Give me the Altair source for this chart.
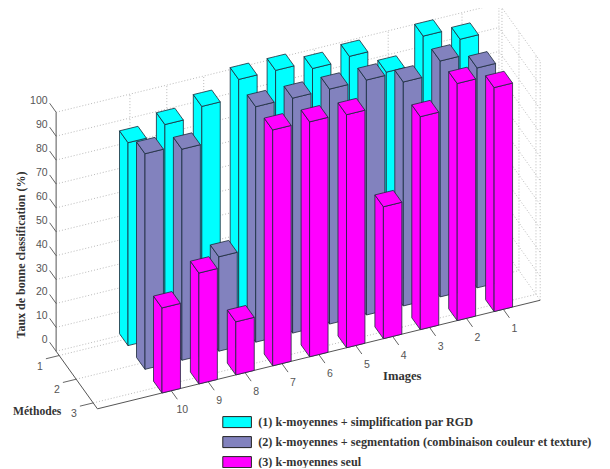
import altair as alt
import pandas as pd

images = [10, 9, 8, 7, 6, 5, 4, 3, 2, 1]
method_ids = [1, 2, 3]
series_names = [
    "(1) k-moyennes + simplification par RGD",
    "(2) k-moyennes + segmentation (combinaison couleur et texture)",
    "(3) k-moyennes seul",
]
colors = ["#00FFFF", "#8282BE", "#FF00FF"]
m1_values = [84.9, 88.7, 92.5, 100, 100, 97, 98.3, 87.9, 99.2, 94.1]
m2_values = [90.2, 88.3, 39.5, 98.5, 98.3, 98.3, 98.3, 93.7, 98.7, 92]
m3_values = [35.6, 46.4, 22.2, 98.7, 98.3, 97.5, 55.2, 89.1, 99.2, 93.7]
z_ticks = [0, 10, 20, 30, 40, 50, 60, 70, 80, 90, 100]
z_labels = ["0", "10", "20", "30", "40", "50", "60", "70", "80", "90", "100"]
all_values = {1: m1_values, 2: m2_values, 3: m3_values}

I_MAX, I_MIN, M_BACK, M_FRONT, HALF = 12, 0, 0.82, 3.25, 0.25


def proj(i, m, z=0):
    u, v = 10.25 - i, 3.25 - m
    return 162 + u * 36.9 - v * 17, 393 - u * 9.05 - v * 23.7 - 2.39 * z


face_rows = []


def add_face(fid, name, pts):
    for x, y, y2 in pts:
        face_rows.append(dict(fid=f"f{fid:03d}", series=name, x=x, y=y, y2=y2))


fid = 0
for m in method_ids:
    for idx in range(len(images) - 1, -1, -1):
        i, v = images[idx], all_values[m][idx]
        name = series_names[m - 1]
        L0, F0, R0 = proj(i + HALF, m - HALF), proj(i + HALF, m + HALF), proj(i - HALF, m + HALF)
        Lt, Ft, Rt, Bt = (proj(i + HALF, m - HALF, v), proj(i + HALF, m + HALF, v),
                          proj(i - HALF, m + HALF, v), proj(i - HALF, m - HALF, v))
        add_face(fid, name, [(L0[0], Lt[1], L0[1]), (F0[0], Ft[1], F0[1])])
        fid += 1
        add_face(fid, name, [(F0[0], Ft[1], F0[1]), (R0[0], Rt[1], R0[1])])
        fid += 1
        up = Lt[1] + (Bt[1] - Lt[1]) * (Ft[0] - Lt[0]) / (Bt[0] - Lt[0])
        low = Ft[1] + (Rt[1] - Ft[1]) * (Bt[0] - Ft[0]) / (Rt[0] - Ft[0])
        add_face(fid, name, [(Lt[0], Lt[1], Lt[1]), (Ft[0], up, Ft[1]), (Bt[0], Bt[1], low), (Rt[0], Rt[1], Rt[1])])
        fid += 1
faces = pd.DataFrame(face_rows)


def seg(a, b):
    return dict(x=a[0], y=a[1], x2=b[0], y2=b[1])


grid_rows, axis_rows, tick_rows = [], [], []
for z in z_ticks:
    grid_rows.append(seg(proj(I_MAX, M_BACK, z), proj(I_MIN, M_BACK, z)))
    grid_rows.append(seg(proj(I_MIN, M_BACK, z), proj(I_MIN, M_FRONT, z)))
    tick_rows.append(seg(proj(I_MAX, M_BACK - 0.38, z), proj(I_MAX, M_BACK, z)))
for i in images:
    grid_rows.append(seg(proj(i, M_BACK, 0), proj(i, M_BACK, 100)))
    grid_rows.append(seg(proj(i, M_BACK, 0), proj(i, M_FRONT, 0)))
    tick_rows.append(seg(proj(i, M_FRONT, 0), proj(i, M_FRONT + 0.36, 0)))
for m in method_ids:
    grid_rows.append(seg(proj(I_MAX, m, 0), proj(I_MIN, m, 0)))
    grid_rows.append(seg(proj(I_MIN, m, 0), proj(I_MIN, m, 100)))
    tick_rows.append(seg(proj(I_MAX + 0.36, m, 0), proj(I_MAX, m, 0)))
grid_rows.append(seg(proj(I_MIN, M_BACK, 0), proj(I_MIN, M_BACK, 100)))
grid_rows.append(seg(proj(I_MIN, M_FRONT, 0), proj(I_MIN, M_FRONT, 100)))
axis_rows.append(seg(proj(I_MAX, M_BACK, 0), proj(I_MAX, M_BACK, 100)))
axis_rows.append(seg(proj(I_MAX, M_BACK, 0), proj(I_MAX, M_FRONT, 0)))
axis_rows.append(seg(proj(I_MAX, M_FRONT, 0), proj(I_MIN, M_FRONT, 0)))

X = alt.X("x:Q", scale=alt.Scale(domain=[8, 602], range=[0, 594], nice=False, zero=False), axis=None)
Y = alt.Y("y:Q", scale=alt.Scale(domain=[8, 468], range=[0, 460], nice=False, zero=False), axis=None)


def rules(rows, **kw):
    return alt.Chart(pd.DataFrame(rows)).mark_rule(**kw).encode(x=X, y=Y, x2="x2:Q", y2="y2:Q")


grid = rules(grid_rows, color="#a8a8a8", strokeWidth=0.8, strokeDash=[1, 2])
axes_l = rules(axis_rows, color="#555555", strokeWidth=1)
ticks = rules(tick_rows, color="#555555", strokeWidth=0.9)

bars = alt.Chart(faces).mark_area(orient="vertical", stroke="#1c2a3a", strokeWidth=0.8, opacity=1,
                                  interpolate="linear").encode(
    x=X, y=Y, y2="y2:Q", detail="fid:N",
    color=alt.Color("series:N", scale=alt.Scale(domain=series_names, range=colors),
                    legend=alt.Legend(orient="none", legendX=223, legendY=408, title=None,
                                      symbolType="M-2.6,-1H2.6V1H-2.6Z", symbolSize=121,
                                      symbolStrokeColor="#222222", symbolStrokeWidth=1, symbolOpacity=1,
                                      labelFont="Liberation Serif", labelFontWeight="bold",
                                      labelFontSize=12.2, labelColor="#333333", labelOffset=15,
                                      rowPadding=4, labelLimit=400)),
)


def labels(rows, dx=0, dy=0, **kw):
    return alt.Chart(pd.DataFrame(rows)).mark_text(dx=dx, dy=dy, **kw).encode(x=X, y=Y, text="t:N")


def at(pt, t):
    return dict(x=pt[0], y=pt[1], t=t)


num = dict(font="Liberation Sans", fontSize=10.5, color="#555555")
z_lab = labels([at(proj(I_MAX, M_BACK - 0.38, z), t) for z, t in zip(z_ticks, z_labels)],
                dx=-2, dy=-2, align="right", baseline="middle", **num)
i_lab = labels([at(proj(i, M_FRONT + 0.36, 0), str(i)) for i in images],
                dx=5, dy=11, align="center", baseline="middle", **num)
m_lab = labels([at(proj(I_MAX + 0.36, m, 0), str(m)) for m in method_ids],
                dx=-6, dy=8, align="center", baseline="middle", **num)

ttl = dict(font="Liberation Serif", fontWeight="bold", color="#333333")
t_z = labels([dict(x=21, y=255, t="Taux de bonne classification (%)")], angle=270, align="center",
             baseline="middle", fontSize=12, **ttl)
t_m = labels([dict(x=13, y=412, t="Méthodes")], align="left", baseline="middle", fontSize=11.6, **ttl)
t_i = labels([dict(x=383, y=376, t="Images")], align="left", baseline="middle", fontSize=12.6, **ttl)

chart = alt.layer(grid, axes_l, ticks, bars, z_lab, i_lab, m_lab, t_z, t_m, t_i).properties(
    width=594, height=460, padding=0, autosize=alt.AutoSizeParams(type="none"),
    background="white",
).configure_view(stroke=None)

chart.save("out.html", embed_options={"renderer": "svg", "actions": False})
